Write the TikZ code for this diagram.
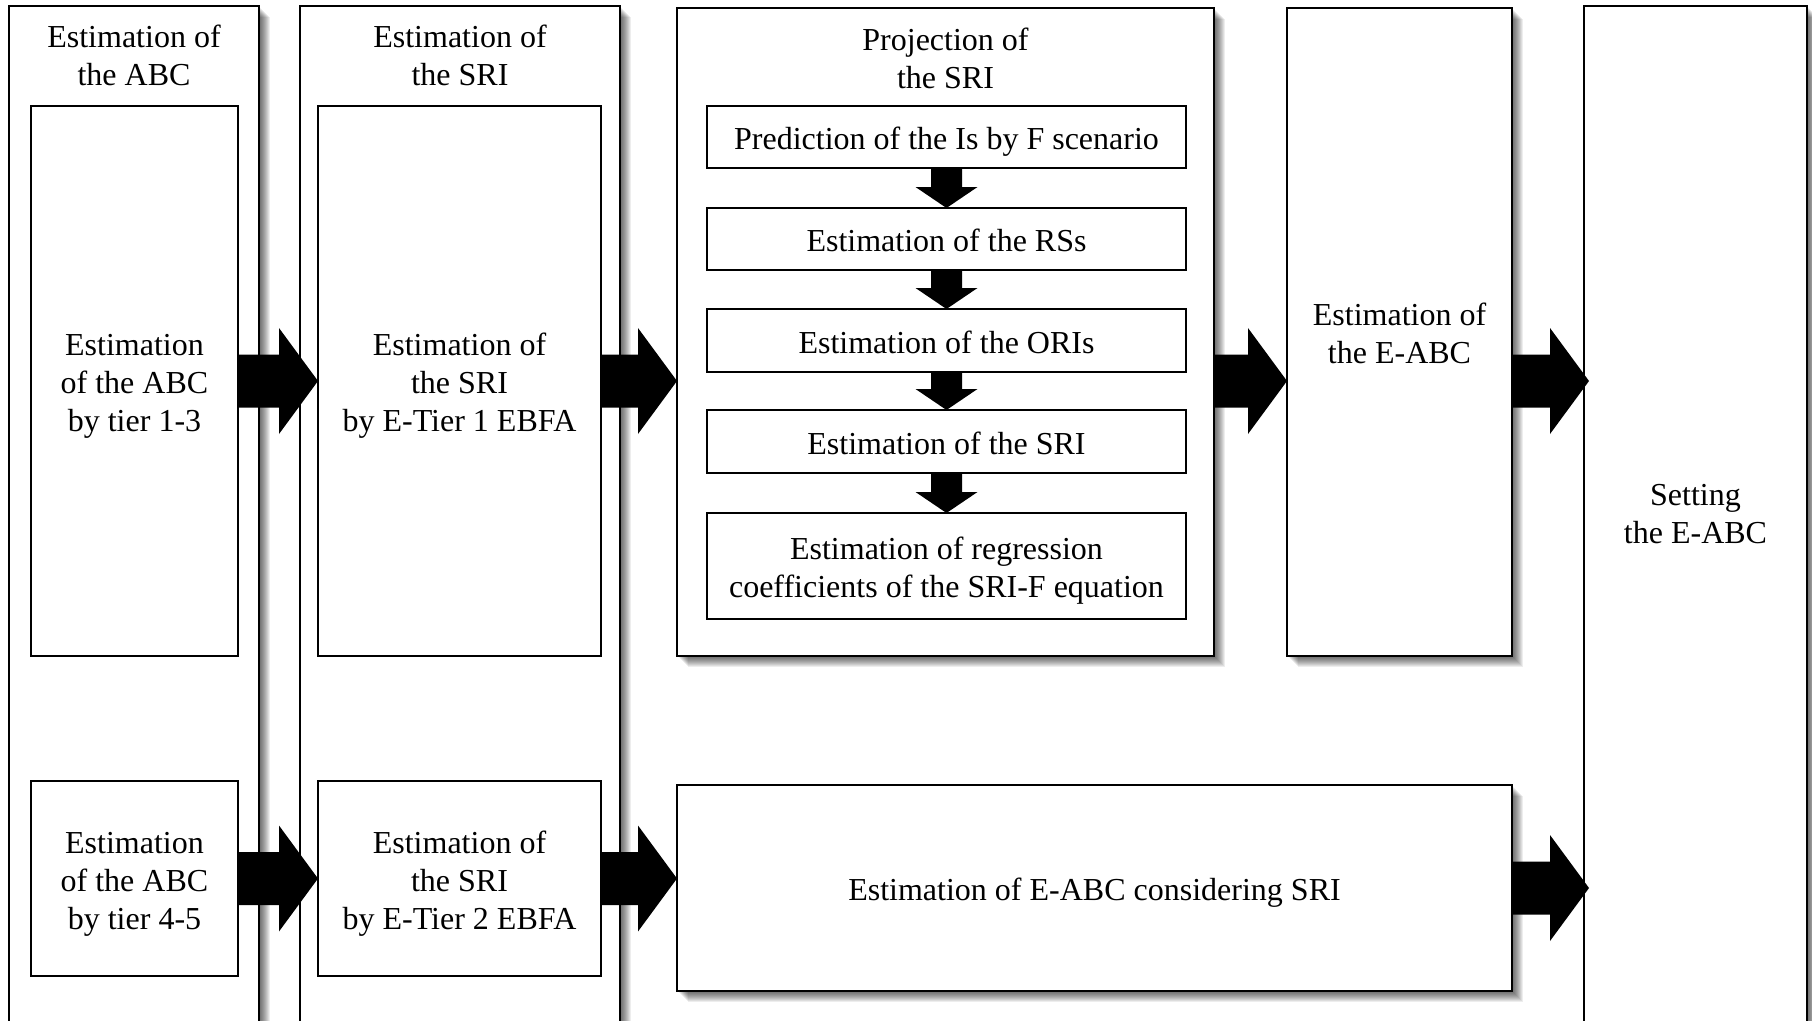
\documentclass[tikz,border=0pt]{standalone}
\usepackage{fontspec}
\setmainfont{Liberation Serif}
\usetikzlibrary{calc,shadows}

\tikzset{
  txt/.style={font=\fontsize{32}{38}\selectfont, align=center},
  box/.style={txt, draw=black, line width=2.4pt, fill=white,
    inner sep=0pt, outer sep=0pt},
  heading/.style={txt, inner sep=0pt},
  % fixed text metrics so that every box sets its lines on the same baseline grid
  oneline/.style={text height=25pt, text depth=0pt},
  twolines/.style={text height=63pt, text depth=0pt},
  threelines/.style={text height=101pt, text depth=0pt},
  sh/.style={general shadow={fill=black, opacity=.07,
    shadow xshift=#1, shadow yshift=-#1}},
  softshadow/.style={sh=1pt, sh=2pt, sh=3pt, sh=4pt, sh=5pt, sh=6pt,
    sh=7pt, sh=8pt, sh=9pt, sh=10pt, sh=11pt},
  blockarrow/.style={fill=black},
}

% horizontal block arrow from a point to the tip point (same height)
\newcommand\rightblock[2]{%
  \fill[blockarrow] let \p1=(#1), \p2=(#2) in
    (\x1,\y1+26.5pt) -- (\x2-39pt,\y1+26.5pt) -- (\x2-39pt,\y1+53pt)
    -- (\x2,\y1) -- (\x2-39pt,\y1-53pt) -- (\x2-39pt,\y1-26.5pt)
    -- (\x1,\y1-26.5pt) -- cycle;}

% vertical block arrow between two stacked boxes
\newcommand\downblock[2]{%
  \fill[blockarrow] let \p1=(#1), \p2=(#2) in
    (\x1-15.5pt,\y1) -- (\x1-15.5pt,\y2+21pt) -- (\x1-31pt,\y2+21pt)
    -- (\x1,\y2) -- (\x1+31pt,\y2+21pt) -- (\x1+15.5pt,\y2+21pt)
    -- (\x1+15.5pt,\y1) -- cycle;}

\begin{document}
\begin{tikzpicture}[x=1pt, y=-1pt]
  \clip (0,0) rectangle (1812,1020);
  \fill[white] (0,0) rectangle (1812,1020);

  % outer columns
  \node[box, softshadow, minimum width=250pt, minimum height=1034pt] (c1) at (134,523) {};
  \node[box, softshadow, minimum width=320pt, minimum height=1034pt] (c2) at (460,523) {};
  \node[box, softshadow, minimum width=537pt, minimum height=648pt] (proj) at (945.5,332) {};
  \node[box, softshadow, twolines, minimum width=225pt, minimum height=648pt] (eabc)
    at (1399.5,332) {Estimation of\\the E-ABC};
  \node[box, softshadow, oneline, minimum width=835pt, minimum height=206pt] (bot)
    at (1094.5,888) {Estimation of E-ABC considering SRI};
  \node[box, softshadow, text height=57pt, text depth=0pt,
    minimum width=223pt, minimum height=1018pt] (set) at (1695.5,515) {Setting\\the E-ABC};

  % column headings
  \node[heading] (c1h) at (134,55) {Estimation of\\the ABC};
  \node[heading] (c2h) at (460,55) {Estimation of\\the SRI};
  \node[heading] (projh) at (945.5,58) {Projection of\\the SRI};

  % inner boxes of the first two columns
  \node[box, threelines, minimum width=207pt, minimum height=550pt] (a1) at (134.5,381)
    {Estimation\\of the ABC\\by tier 1-3};
  \node[box, threelines, minimum width=207pt, minimum height=195pt] (b1) at (134.5,878.5)
    {Estimation\\of the ABC\\by tier 4-5};
  \node[box, threelines, minimum width=283pt, minimum height=550pt] (a2) at (459.5,381)
    {Estimation of\\the SRI\\by E-Tier 1 EBFA};
  \node[box, threelines, minimum width=283pt, minimum height=195pt] (b2) at (459.5,878.5)
    {Estimation of\\the SRI\\by E-Tier 2 EBFA};

  % projection steps
  \node[box, oneline, minimum width=479pt, minimum height=62pt] (s1) at (946.5,137)
    {Prediction of the Is by F scenario};
  \node[box, oneline, minimum width=479pt, minimum height=62pt] (s2) at (946.5,239)
    {Estimation of the RSs};
  \node[box, oneline, minimum width=479pt, minimum height=63pt] (s3) at (946.5,340.5)
    {Estimation of the ORIs};
  \node[box, oneline, minimum width=479pt, minimum height=63pt] (s4) at (946.5,441.5)
    {Estimation of the SRI};
  \node[box, twolines, minimum width=479pt, minimum height=106pt] (s5) at (946.5,566)
    {Estimation of regression\\coefficients of the SRI-F equation};

  \downblock{s1.south}{s2.north}
  \downblock{s2.south}{s3.north}
  \downblock{s3.south}{s4.north}
  \downblock{s4.south}{s5.north}

  % block arrows between stages
  \rightblock{a1.east}{a2.west}
  \rightblock{a2.east}{a2.east -| proj.west}
  \rightblock{proj.east |- a2.east}{eabc.west |- a2.east}
  \rightblock{eabc.east |- a2.east}{$(set.west |- a2.east)+(5,0)$}
  \rightblock{b1.east}{b2.west}
  \rightblock{b2.east}{b2.east -| bot.west}
  \rightblock{bot.east}{$(set.west |- bot.east)+(5,0)$}
\end{tikzpicture}
\end{document}
